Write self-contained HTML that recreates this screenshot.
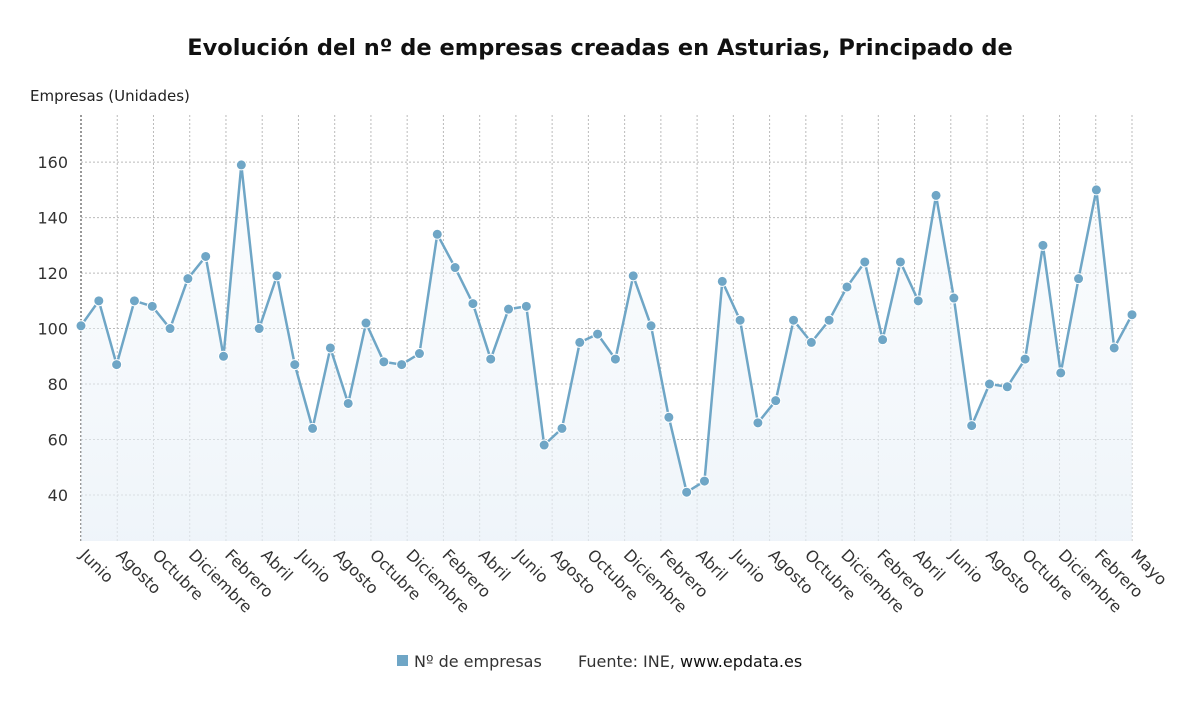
<!DOCTYPE html>
<html><head><meta charset="utf-8">
<style>
body{margin:0;background:#fff;font-family:"Liberation Sans","DejaVu Sans",sans-serif;}
svg text{font-family:"DejaVu Sans","Liberation Sans",sans-serif;}
</style></head>
<body>
<svg id="chart" width="1200" height="705" viewBox="0 0 1200 705">
<defs><linearGradient id="g" x1="0" y1="0" x2="0" y2="1"><stop offset="0" stop-color="#f0f6fb" stop-opacity="0.3"/><stop offset="1" stop-color="#e8f0f7" stop-opacity="0.7"/></linearGradient></defs>
<text x="600" y="55" text-anchor="middle" font-size="22.5" font-weight="bold" fill="#111">Evolución del nº de empresas creadas en Asturias, Principado de</text>
<text x="30" y="101" font-size="15" fill="#222">Empresas (Unidades)</text>
<g id="grid"></g><g id="area"></g><g id="marks"></g><g id="labels"></g>
<rect x="397" y="655" width="11" height="11" fill="#6fa6c6"/>
<text x="414" y="667" font-size="16" fill="#333">Nº de empresas</text>
<text x="578" y="667" font-size="16" fill="#333">Fuente: INE, <tspan fill="#111">www.epdata.es</tspan></text>
</svg>
<script>
const values=[101,110,87,110,108,100,118,126,90,159,100,119,87,64,93,73,102,88,87,91,134,122,109,89,107,108,58,64,95,98,89,119,101,68,41,45,117,103,66,74,103,95,103,115,124,96,124,110,148,111,65,80,79,89,130,84,118,150,93,105];
const yTicks=[40,60,80,100,120,140,160];
const xLabels=["Junio","Agosto","Octubre","Diciembre","Febrero","Abril","Junio","Agosto","Octubre","Diciembre","Febrero","Abril","Junio","Agosto","Octubre","Diciembre","Febrero","Abril","Junio","Agosto","Octubre","Diciembre","Febrero","Abril","Junio","Agosto","Octubre","Diciembre","Febrero","Mayo"];
const L=81,R=1132,T=115,B=541,ymin=23.4,ymax=177;
const NS='http://www.w3.org/2000/svg';
const xs=i=>L+(R-L)*i/(values.length-1);
const ys=v=>B-(v-ymin)/(ymax-ymin)*(B-T);
function mk(p,tag,a){const e=document.createElementNS(NS,tag);for(const k in a)e.setAttribute(k,a[k]);document.getElementById(p).appendChild(e);return e;}
yTicks.forEach(t=>{
 const l=mk('grid','line',{x1:L,x2:R,y1:ys(t),y2:ys(t),stroke:'#bbb','stroke-dasharray':'2,2'});
 
 
 const tx=mk('labels','text',{x:68,y:ys(t)+6,'text-anchor':'end','font-size':16,fill:'#333'});tx.textContent=t;
 
 
});
xLabels.forEach((lab,j)=>{
 const x=L+(R-L)*j/(xLabels.length-1);
 const l=mk('grid','line',{x1:x,x2:x,y1:T,y2:B,stroke:'#bbb','stroke-dasharray':'2,2'});
 
 
 const tx=mk('labels','text',{x:x-2,y:B+15,'font-size':16,fill:'#333',transform:`rotate(45 ${x-2} ${B+15})`});tx.textContent=lab;
 
 
});
const ax=mk('grid','line',{x1:L,x2:L,y1:T,y2:B,stroke:'#333','stroke-dasharray':'2,2'});


const pts=values.map((v,i)=>xs(i)+','+ys(v)).join(' ');
const ar=mk('area','polygon',{points:`${L},${B} ${pts} ${R},${B}`,fill:'url(#g)'});


const ln=mk('marks','polyline',{points:pts,fill:'none',stroke:'#6fa6c6','stroke-width':2.5});


values.forEach((v,i)=>{
 const c=mk('marks','circle',{cx:xs(i),cy:ys(v),r:5,fill:'#6fa6c6',stroke:'#fff','stroke-width':1});
 
 
});
</script>
</body></html>
